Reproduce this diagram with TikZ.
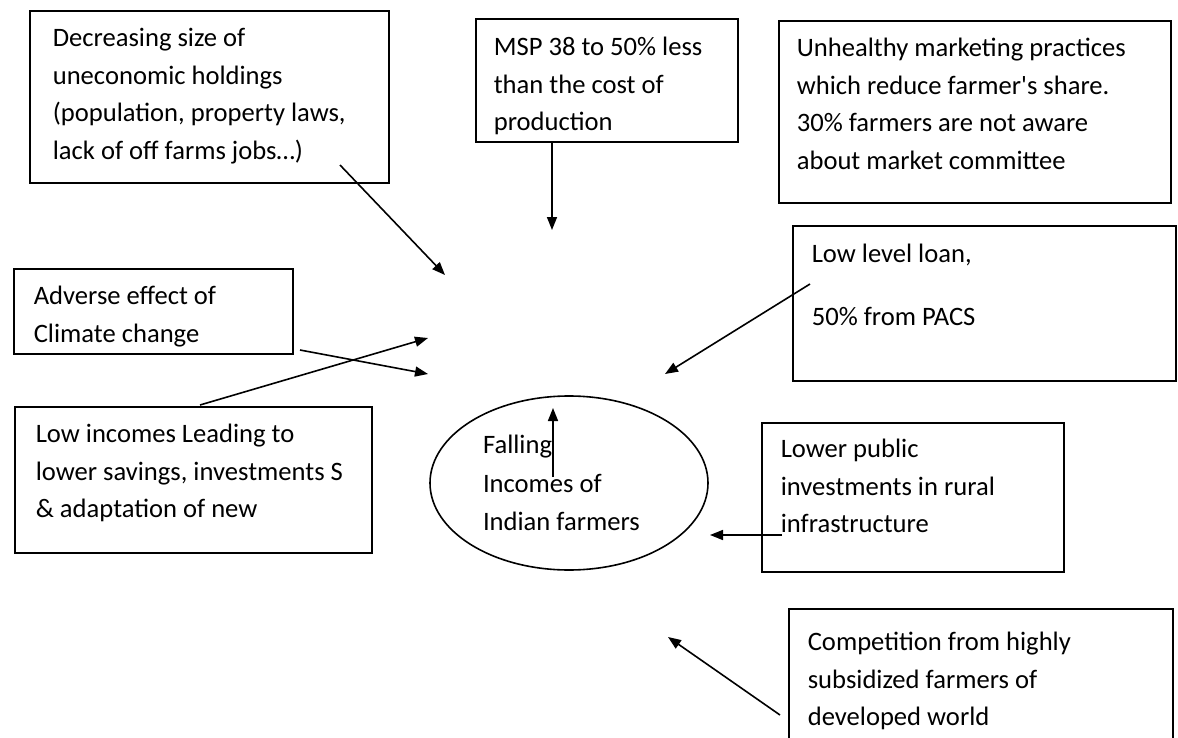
\documentclass[tikz,border=0pt]{standalone}
\usepackage{fontspec}
\setmainfont{Carlito}
\usetikzlibrary{arrows.meta,shapes.geometric}

\begin{document}
\begin{tikzpicture}[x=0.5pt,y=-0.5pt,
  cause/.style={draw,line width=0.8pt,anchor=north west,
    font=\fontsize{13.3}{18.75}\selectfont},
  arr/.style={line width=0.8pt,-{Triangle[length=6.5pt,width=5pt]}}]
\fill[white] (0,0) rectangle (1178,738);
\useasboundingbox (0,0) rectangle (1178,738);
% Causas
\node[cause,inner xsep=11.5pt,inner ysep=4.875pt] (holdings) at (29,10)
  {\parbox[t][76.25pt][t]{156.5pt}{\strut Decreasing size of\\uneconomic holdings\\(population, property laws,\\lack of off farms jobs…)}};
\node[cause,inner xsep=9pt,inner ysep=5.375pt] (msp) at (475,18)
  {\parbox[t][50.75pt][t]{113pt}{\strut MSP 38 to 50\% less\\than the cost of\\production}};
\node[cause,inner xsep=9pt,inner ysep=4.875pt] (market) at (778,20)
  {\parbox[t][81.25pt][t]{178pt}{\strut Unhealthy marketing practices\\which reduce farmer\textquotesingle s share.\\30\% farmers are not aware\\about market committee}};
\node[cause,inner xsep=9.5pt,inner ysep=5.375pt] (loan) at (792,225)
  {\parbox[t][66.75pt][t]{172.5pt}{\strut Low level loan,\\[12.75pt]50\% from PACS}};
\node[cause,inner xsep=10pt,inner ysep=4.875pt] (climate) at (13,268)
  {\parbox[t][32.75pt][t]{119.5pt}{\strut Adverse effect of\\Climate change}};
\node[cause,inner xsep=10.5pt,inner ysep=4.875pt] (incomes) at (14,406)
  {\parbox[t][63.25pt][t]{157.5pt}{\strut Low incomes Leading to\\lower savings, investments S\\\& adaptation of new}};
\node[cause,inner xsep=9.5pt,inner ysep=4.375pt] (rural) at (761,422)
  {\parbox[t][65.75pt][t]{132pt}{\strut Lower public\\investments in rural\\infrastructure}};
\node[cause,inner xsep=9.5pt,inner ysep=7.875pt] (competition) at (788,608)
  {\parbox[t][60.25pt][t]{173pt}{\strut Competition from highly\\subsidized farmers of\\developed world}};
% Efeito
\node[ellipse,draw,line width=0.8pt,minimum width=139pt,minimum height=87pt,
  inner sep=0pt,text width=86pt,align=flush left,font=\fontsize{13.3}{19.25}\selectfont] (falling) at (569,483)
  {Falling\\Incomes of\\Indian farmers};
% Setas
\coordinate (holdings-out) at (340,165);
\coordinate (holdings-in) at (445,275);
\coordinate (msp-in) at (552,230);
\coordinate (loan-out) at (810,284);
\coordinate (loan-in) at (665,374);
\coordinate (climate-out) at (300,350);
\coordinate (climate-in) at (428,374);
\coordinate (incomes-out) at (200,405);
\coordinate (incomes-in) at (428,338);
\coordinate (rural-out) at (782,535);
\coordinate (rural-in) at (710,535);
\coordinate (competition-out) at (780,715);
\coordinate (competition-in) at (668,637);
\coordinate (falling-out) at (553,477);
\coordinate (falling-in) at (553,408);
\draw[arr] (holdings-out) -- (holdings-in);
\draw[arr] (msp-in |- msp.south) -- (msp-in);
\draw[arr] (loan-out) -- (loan-in);
\draw[arr] (climate-out) -- (climate-in);
\draw[arr] (incomes-out) -- (incomes-in);
\draw[arr] (rural-out) -- (rural-in);
\draw[arr] (competition-out) -- (competition-in);
\draw[arr] (falling-out) -- (falling-in);
\end{tikzpicture}
\end{document}
